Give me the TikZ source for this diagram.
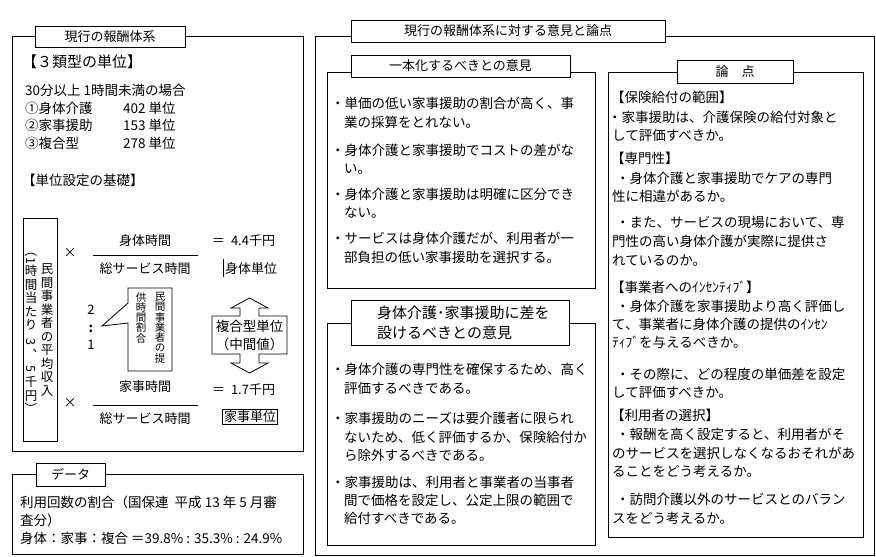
\documentclass[tikz,border=0pt]{standalone}
\usepackage{fontspec}
\usepackage{graphicx}
\setmainfont{Noto Sans CJK JP}
\newcommand\jline[4]{\node[tx] (#1) at (#2,#3+5) {#4};}
\begin{document}
\begin{tikzpicture}[x=1pt,y=-1pt,
  frame/.style={draw,line width=0.8pt},
  ttl/.style={draw,fill=white,line width=0.8pt,inner sep=0pt,font=\fontsize{13}{15}\selectfont},
  tx/.style={anchor=base west,inner sep=0pt,font=\fontsize{13.5}{16}\selectfont},
  sm/.style={anchor=base,inner sep=0pt,font=\fontsize{13}{15}\selectfont},
  vcol/.style={align=center,inner sep=0pt,font=\fontsize{12.5}{13.5}\selectfont},
  ccol/.style={align=center,inner sep=0pt,anchor=north,font=\fontsize{10.5}{10.3}\selectfont},
]
\useasboundingbox (0,0) rectangle (876,557);

% ---------------- left panel ----------------
\draw[frame] (12,36) rectangle (303,451);
\node[ttl,minimum width=150pt,minimum height=21pt] (lt) at (110,36.5) {現行の報酬体系};
\node[tx,font=\fontsize{15}{17}\selectfont] (l1) at (22,67.5) {【３類型の単位】};
\jline{l2}{25}{90}{30分以上 1時間未満の場合}
\jline{l3}{25}{108}{①身体介護}
\jline{l3n}{123}{108}{402 単位}
\jline{l4}{25}{125}{②家事援助}
\jline{l4n}{123}{125}{153 単位}
\jline{l5}{25}{143}{③複合型}
\jline{l5n}{123}{143}{278 単位}
\jline{l6}{22}{180}{【単位設定の基礎】}

% vertical box
\draw[frame] (23,218) rectangle (57,441);
\node[vcol] (vr) at (47,330) {民\\間\\事\\業\\者\\の\\平\\均\\収\\入};
\node[vcol] (vl) at (31,330) {\rotatebox[origin=c]{-90}{（1}\\時\\間\\当\\た\\り\\[3pt]\rotatebox[origin=c]{-90}{3}\\︑\\\rotatebox[origin=c]{-90}{5}\\千\\円\\\rotatebox[origin=c]{-90}{）}};

% fraction 1
\node[sm] (x1) at (70,257) {×};
\node[sm] (f1a) at (145,245) {身体時間};
\draw[line width=0.8pt] (93,255) -- (198,255);
\node[sm] (f1b) at (145,273) {総サービス時間};
\node[tx,font=\fontsize{13}{15}\selectfont] (e1) at (212,245) {＝\ \ 4.4千円};
\draw[line width=0.8pt] (223,259) -- (223,277);
\node[tx,font=\fontsize{13}{15}\selectfont] (u1) at (225,273) {身体単位};

% ratio
\node[sm] (r2) at (91,314) {2};
\node[sm,font=\fontsize{13}{15}\selectfont\bfseries] (rc) at (91,332) {:};
\node[sm] (r1) at (91,349) {1};

% callout
\draw[frame,fill=white] (128,288) -- (172,288) -- (172,371) -- (128,371) -- (128,323) -- (102,326) -- (128,303) -- cycle;
\node[ccol] (cr) at (160,292) {民\\間\\事\\業\\者\\の\\提};
\node[ccol] (cl) at (141,292) {供\\時\\間\\割\\合};

% double arrow
\draw[frame] (249.5,298) -- (268,308) -- (259,308) -- (259,316) -- (287,316) -- (287,354) -- (259,354) -- (259,363) -- (268,363) -- (249.5,373) -- (231,363) -- (240,363) -- (240,354) -- (212,354) -- (212,316) -- (240,316) -- (240,308) -- (231,308) -- cycle;
\node[sm,font=\fontsize{13.5}{15}\selectfont] (c1) at (249.5,331) {複合型単位};
\node[sm,font=\fontsize{13.5}{15}\selectfont] (c2) at (249.5,349) {（中間値）};

% fraction 2
\node[sm] (x2) at (70,407) {×};
\node[sm] (f2a) at (145,391) {家事時間};
\draw[line width=0.8pt] (93,405) -- (198,405);
\node[sm] (f2b) at (145,423) {総サービス時間};
\node[tx,font=\fontsize{13}{15}\selectfont] (e2) at (212,394) {＝\ \ 1.7千円};
\node[draw,line width=0.8pt,inner sep=1.5pt,font=\fontsize{13}{15}\selectfont] (u2) at (250,416.5) {家事単位};

% ---------------- data panel ----------------
\draw[frame] (12,474) rectangle (303,554);
\node[ttl,minimum width=69pt,minimum height=23pt] (dt) at (70.5,474.5) {データ};
\jline{d1}{20}{502}{利用回数の割合（国保連\ \ 平成 13 年 5 月審}
\jline{d2}{20}{520}{査分）}
\jline{d3}{20}{538}{身体：家事：複合 ＝39.8\% : 35.3\% : 24.9\%}

% ---------------- middle panel ----------------
\draw[frame] (315,36) rectangle (874,555);
\node[ttl,minimum width=314pt,minimum height=22pt] (mt) at (508,31) {現行の報酬体系に対する意見と論点};

\draw[frame] (327,72) rectangle (595,288);
\node[ttl,minimum width=219pt,minimum height=22pt] (s1t) at (460.5,66) {一本化するべきとの意見};
\jline{a1}{331}{103}{・単価の低い家事援助の割合が高く、事}
\jline{a2}{344}{122}{業の採算をとれない。}
\jline{a3}{331}{150}{・身体介護と家事援助でコストの差がな}
\jline{a4}{344}{168}{い。}
\jline{a5}{331}{194}{・身体介護と家事援助は明確に区分でき}
\jline{a6}{344}{212}{ない。}
\jline{a7}{331}{238}{・サービスは身体介護だが、利用者が一}
\jline{a8}{344}{257}{部負担の低い家事援助を選択する。}

\draw[frame] (327,323) rectangle (595,545);
\node[ttl,minimum width=218pt,minimum height=45pt] (s2t) at (460,322.5) {};
\node[tx,font=\fontsize{15}{17}\selectfont] (s2a) at (377,318.5) {身体介護･家事援助に差を};
\node[tx,font=\fontsize{15}{17}\selectfont] (s2b) at (377,338.5) {設けるべきとの意見};
\jline{b1}{331}{369}{・身体介護の専門性を確保するため、高く}
\jline{b2}{344}{388}{評価するべきである。}
\jline{b3}{331}{418}{・家事援助のニーズは要介護者に限られ}
\jline{b4}{344}{437}{ないため、低く評価するか、保険給付か}
\jline{b5}{344}{455}{ら除外するべきである。}
\jline{b6}{331}{482}{・家事援助は、利用者と事業者の当事者}
\jline{b7}{344}{500}{間で価格を設定し、公定上限の範囲で}
\jline{b8}{344}{518}{給付すべきである。}

% ---------------- right box ----------------
\draw[frame] (608,72) rectangle (863,537);
\node[ttl,minimum width=116pt,minimum height=23pt] (rt) at (735,71.5) {論\quad 点};
\jline{c01}{611}{97}{【保険給付の範囲】}
\jline{c02}{608}{117}{・家事援助は、介護保険の給付対象と}
\jline{c03}{612}{135}{して評価すべきか。}
\jline{c04}{611}{158}{【専門性】}
\jline{c05}{616}{178}{・身体介護と家事援助でケアの専門}
\jline{c06}{612}{196}{性に相違があるか。}
\jline{c07}{616}{222}{・また、サービスの現場において、専}
\jline{c08}{612}{241}{門性の高い身体介護が実際に提供さ}
\jline{c09}{612}{260}{れているのか。}
\jline{c10}{611}{287}{【事業者へのｲﾝｾﾝﾃｨﾌﾞ】}
\jline{c11}{616}{306}{・身体介護を家事援助より高く評価し}
\jline{c12}{612}{324}{て、事業者に身体介護の提供のｲﾝｾﾝ}
\jline{c13}{612}{342}{ﾃｨﾌﾞを与えるべきか。}
\jline{c14}{616}{374}{・その際に、どの程度の単価差を設定}
\jline{c15}{612}{392}{して評価すべきか。}
\jline{c16}{611}{415}{【利用者の選択】}
\jline{c17}{616}{434}{・報酬を高く設定すると、利用者がそ}
\jline{c18}{612}{453}{のサービスを選択しなくなるおそれがあ}
\jline{c19}{612}{471}{ることをどう考えるか。}
\jline{c20}{616}{499}{・訪問介護以外のサービスとのバラン}
\jline{c21}{612}{518}{スをどう考えるか。}
\end{tikzpicture}
\end{document}
